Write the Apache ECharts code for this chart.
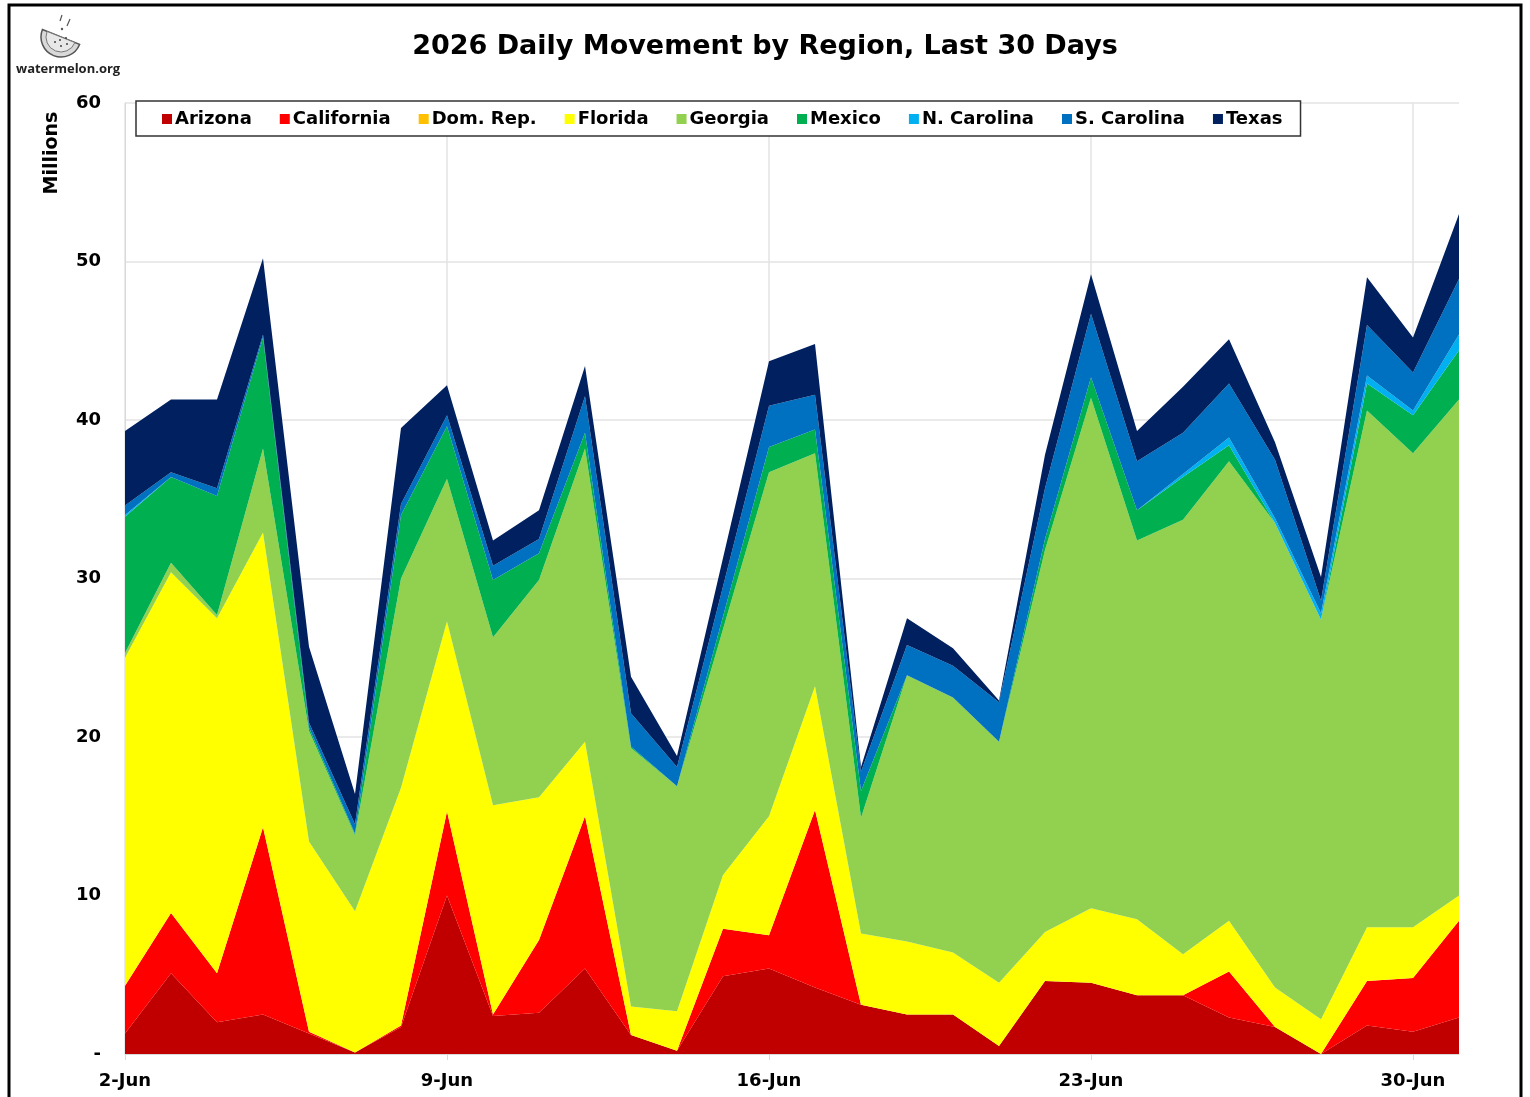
<!DOCTYPE html>
<html>
<head>
<meta charset="utf-8">
<script src="https://cdn.jsdelivr.net/npm/echarts@6/dist/echarts.min.js"></script>
<style>
html,body{margin:0;padding:0;background:#fff;}
#chart{width:1530px;height:1097px;}
</style>
</head>
<body>
<div id="chart"></div>
<script>
const categories = ['2-Jun','3-Jun','4-Jun','5-Jun','6-Jun','7-Jun','8-Jun','9-Jun','10-Jun','11-Jun','12-Jun','13-Jun','14-Jun','15-Jun','16-Jun','17-Jun','18-Jun','19-Jun','20-Jun','21-Jun','22-Jun','23-Jun','24-Jun','25-Jun','26-Jun','27-Jun','28-Jun','29-Jun','30-Jun','1-Jul'];

const arizona    = [1.3,5.1,2.0,2.5,1.3,0.1,1.7,10.0,2.4,2.6,5.4,1.2,0.2,4.9,5.4,4.2,3.1,2.5,2.5,0.5,4.6,4.5,3.7,3.7,2.3,1.7,0.0,1.8,1.4,2.3];
const california = [3.0,3.8,3.1,11.8,0.1,0.0,0.1,5.3,0.1,4.6,9.6,0.0,0.0,3.0,2.1,11.2,0.0,0.0,0.0,0.0,0.0,0.0,0.0,0.0,2.9,0.0,0.0,2.8,3.4,6.1];
const domRep     = [0,0,0,0,0,0,0,0,0,0,0,0,0,0,0,0,0,0,0,0,0,0,0,0,0,0,0,0,0,0];
const florida    = [20.7,21.5,22.4,18.6,12.0,8.9,15.0,12.0,13.2,9.0,4.7,1.8,2.5,3.4,7.5,7.8,4.5,4.6,3.9,4.0,3.1,4.7,4.8,2.6,3.2,2.5,2.2,3.4,3.2,1.6];
const georgia    = [0.3,0.6,0.2,5.3,7.0,4.8,13.2,9.0,10.6,13.7,18.5,16.3,14.2,15.5,21.7,14.7,7.3,16.8,16.1,15.2,24.1,32.2,23.9,27.4,29.0,29.3,25.2,32.6,29.9,31.3];
const mexico     = [8.6,5.4,7.5,7.0,0.2,0.1,4.0,3.3,3.6,1.7,1.0,0.1,0.0,0.8,1.6,1.5,1.7,0.0,0.0,0.0,0.7,1.3,1.9,2.7,1.0,0.0,0.0,1.7,2.4,3.1];
const nCarolina  = [0.1,0,0,0,0,0,0,0,0,0,0,0,0,0,0,0,0,0,0,0,0,0,0,0.2,0.5,0.3,0.4,0.5,0.3,1.0];
const sCarolina  = [0.6,0.3,0.5,0.2,0.3,0.6,0.7,0.7,0.9,0.9,2.3,2.1,1.2,1.9,2.6,2.2,1.2,1.9,2.0,2.5,3.2,4.0,3.1,2.6,3.4,3.7,0.8,3.2,2.4,3.5];
const texas      = [4.7,4.6,5.6,4.8,4.8,1.9,4.8,1.9,1.6,1.8,1.9,2.3,0.7,1.8,2.8,3.2,0.3,1.7,1.1,0.1,2.1,2.5,1.9,2.9,2.8,1.1,1.5,3.0,2.2,4.1];

const seriesNames  = ['Arizona','California','Dom. Rep.','Florida','Georgia','Mexico','N. Carolina','S. Carolina','Texas'];
const seriesData   = [arizona, california, domRep, florida, georgia, mexico, nCarolina, sCarolina, texas];
const seriesColors = ['#C00000','#FF0000','#FFC000','#FFFF00','#92D050','#00B050','#00B0F0','#0070C0','#002060'];

const yTicks = [0,10,20,30,40,50,60];

const FONT = "'DejaVu Sans', 'Open Sans', sans-serif";

const chart = echarts.init(document.getElementById('chart'), null, {renderer:'canvas'});

const series = seriesNames.map((n,i)=>({
  name:n,
  type:'line',
  stack:'total',
  data:seriesData[i],
  symbol:'none',
  showSymbol:false,
  lineStyle:{width:0},
  areaStyle:{color:seriesColors[i],opacity:1},
  itemStyle:{color:seriesColors[i]},
  emphasis:{disabled:true},
  silent:true
}));

chart.setOption({
  animation:false,
  backgroundColor:'#fff',
  title:{
    text:'2026 Daily Movement by Region, Last 30 Days',
    left:'center',
    top:24,
    textStyle:{fontFamily:FONT,fontWeight:'bold',fontSize:27,color:'#000',lineHeight:36}
  },
  legend:{
    data:seriesNames,
    left:136,
    top:101,
    padding:[9,18,8,26],
    itemGap:28,
    itemWidth:10,
    itemHeight:10,
    icon:'rect',
    borderColor:'#333',
    borderWidth:1.5,
    backgroundColor:'#fff',
    textStyle:{fontFamily:FONT,fontWeight:'bold',fontSize:18,color:'#000',padding:[0,0,0,-2]}
  },
  grid:{left:125,right:71,top:103,bottom:43,containLabel:false},
  xAxis:{
    type:'category',
    data:categories,
    boundaryGap:false,
    axisLine:{show:true,lineStyle:{color:'#d9d9d9',width:1}},
    axisTick:{show:true,interval:6,length:6,lineStyle:{color:'#d9d9d9'}},
    axisLabel:{interval:6,margin:18,fontFamily:FONT,fontWeight:'bold',fontSize:18,color:'#000'},
    splitLine:{show:true,interval:6,lineStyle:{color:'#e3e3e3',width:1.5}}
  },
  yAxis:{
    type:'value',
    min:yTicks[0],
    max:yTicks[yTicks.length-1],
    interval:10,
    axisLine:{show:true,lineStyle:{color:'#d9d9d9'}},
    axisTick:{show:false},
    axisLabel:{margin:24,fontFamily:FONT,fontWeight:'bold',fontSize:18,color:'#000',
      formatter:v=> v===0 ? '-' : String(v)},
    splitLine:{show:true,lineStyle:{color:'#e3e3e3',width:1.5}}
  },
  graphic:[
    {type:'rect',shape:{x:9,y:5,width:1512,height:1120},style:{fill:'none',stroke:'#000',lineWidth:3},z:100,silent:true},
    {type:'text',x:52,y:153,rotation:Math.PI/2,style:{text:'Millions',fontFamily:FONT,fontWeight:'bold',fontSize:19,fill:'#000',textAlign:'center',textVerticalAlign:'middle'}},
    {type:'sector',shape:{cx:61,cy:37,r:20,r0:0,startAngle:0.38,endAngle:0.38+Math.PI,clockwise:true},style:{fill:'#d9d9d9',stroke:'#555',lineWidth:1.5}},
    {type:'sector',shape:{cx:61,cy:37,r:15,r0:0,startAngle:0.38,endAngle:0.38+Math.PI,clockwise:true},style:{fill:'#e8e8e8',stroke:'#777',lineWidth:1}},
    {type:'circle',shape:{cx:55,cy:42,r:1},style:{fill:'#444'}},
    {type:'circle',shape:{cx:61,cy:46,r:1},style:{fill:'#444'}},
    {type:'circle',shape:{cx:67,cy:44,r:1},style:{fill:'#444'}},
    {type:'circle',shape:{cx:60,cy:40,r:1},style:{fill:'#444'}},
    {type:'circle',shape:{cx:66,cy:38,r:1},style:{fill:'#444'}},
    {type:'line',shape:{x1:60,y1:21,x2:62,y2:15},style:{stroke:'#555',lineWidth:1.2}},
    {type:'line',shape:{x1:67,y1:26,x2:70,y2:19},style:{stroke:'#555',lineWidth:1.2}},
    {type:'circle',shape:{cx:62,cy:29,r:1.2},style:{fill:'#555'}},
    {type:'text',x:16,y:63,style:{text:'watermelon.org',fontFamily:"'Open Sans', sans-serif",fontWeight:'bold',fontSize:13,fill:'#222'}}
  ],
  series:series
});
</script>
</body>
</html>
